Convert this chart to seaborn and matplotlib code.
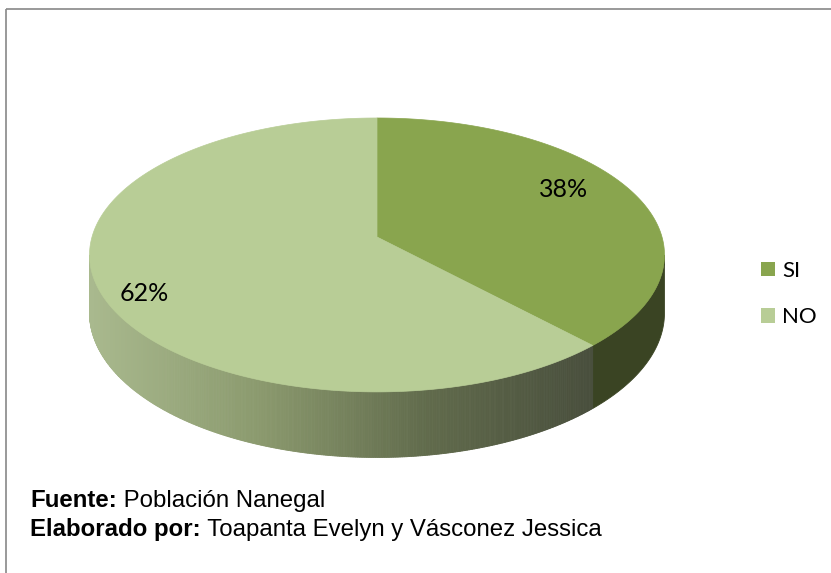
import numpy as np
import matplotlib
matplotlib.use("Agg")
import matplotlib.pyplot as plt
from matplotlib.patches import Patch
import seaborn as sns

# data
categories = ["SI", "NO"]
percentages = [38, 62]
top_colors = ["#89a54e", "#b8cd96"]
side_colors = ["#3a4423", None]  # NO side uses a gradient
no_side_stops = ["#a9b98e", "#8b9a6e", "#616b4c", "#484e3c"]

source_label = "Fuente:"
source_text = " Población Nanegal"
author_label = "Elaborado por:"
author_text = " Toapanta Evelyn y Vásconez Jessica"

sns.set_theme(style="white")
plt.rcParams["font.family"] = ["Lato", "DejaVu Sans"]
plt.rcParams["text.color"] = "black"

W, H = 831, 573
fig = plt.figure(figsize=(W / 100, H / 100), dpi=100)
ax = fig.add_axes([0, 0, 1, 1])
ax.set_xlim(0, W)
ax.set_ylim(H, 0)
ax.axis("off")

# simple perspective projection of a flat disc (pixel layout)
CX, CY = 377, 237      # apex of the pie
SX, SY = 285, 134.6    # horizontal / vertical radius at apex depth
A = 0.131              # perspective strength
DEPTH = 57             # thickness of the disc


def proj(theta, z=0.0):
    u, v = np.sin(theta), np.cos(theta)
    w = 1 + A * v
    return CX + SX * u / w, CY - SY * v / w + z / w


fracs = np.array(percentages) / sum(percentages)
bounds = np.concatenate([[0], np.cumsum(fracs)]) * 2 * np.pi
vis_lo = np.arccos(-A)
vis_hi = 2 * np.pi - vis_lo

# side walls (front half only)
grad = sns.blend_palette(no_side_stops, n_colors=256)
for i, cat in enumerate(categories):
    t0, t1 = max(bounds[i], vis_lo), min(bounds[i + 1], vis_hi)
    if t1 <= t0:
        continue
    if side_colors[i] is not None:
        t = np.linspace(t0, t1, 120)
        xt, yt = proj(t)
        xb, yb = proj(t, DEPTH)
        ax.fill(np.r_[xt, xb[::-1]], np.r_[yt, yb[::-1]],
                color=side_colors[i], lw=0.6, ec=side_colors[i])
    else:
        edges = np.linspace(t0, t1, 400)
        xmin, xmax = proj(vis_hi)[0], proj(bounds[i])[0]
        for a, b in zip(edges[:-1], edges[1:]):
            t = np.array([a, b])
            xt, yt = proj(t)
            xb, yb = proj(t, DEPTH)
            pos = np.clip((xt.mean() - xmin) / (xmax - xmin), 0, 1)
            c = grad[int(pos * 255)]
            ax.fill(np.r_[xt, xb[::-1]], np.r_[yt, yb[::-1]],
                    color=c, lw=0.6, ec=c)

# top faces
for i, cat in enumerate(categories):
    t = np.linspace(bounds[i], bounds[i + 1], 300)
    xr, yr = proj(t)
    ax.fill(np.r_[CX, xr], np.r_[CY, yr], color=top_colors[i],
            lw=0.5, ec=top_colors[i])

# percentage labels
for i, cat in enumerate(categories):
    mid = (bounds[i] + bounds[i + 1]) / 2
    lx = CX - 23 + 0.79 * SX * np.sin(mid)
    ly = 241.5 - 1.04 * SY * np.cos(mid)
    ax.text(lx, ly, f"{percentages[i]}%", ha="center", va="center",
            fontsize=18, color="black")

# legend
handles = [Patch(facecolor=c, edgecolor="none") for c in top_colors]
ax.legend(handles, categories, loc="center left",
          bbox_to_anchor=(761 / W, 1 - 294 / H), frameon=False,
          prop={"family": "Lato", "size": 16},
          handlelength=0.64, handleheight=0.64, handletextpad=0.3,
          labelspacing=1.2, borderpad=0, borderaxespad=0)

# footer
foot = {"family": ["Liberation Sans", "DejaVu Sans"], "size": 17.3}
t1 = ax.text(30, 507, source_label, fontdict=foot, fontweight="bold",
             va="baseline", color="black")
ax.annotate(source_text, xy=(1, 0), xycoords=t1, va="bottom",
            fontfamily=foot["family"], fontsize=foot["size"], color="black")
t2 = ax.text(30, 536, author_label, fontdict=foot, fontweight="bold",
             va="baseline", color="black")
ax.annotate(author_text, xy=(1, 0), xycoords=t2, va="bottom",
            fontfamily=foot["family"], fontsize=foot["size"], color="black")

# chart frame
ax.plot([6, W], [9, 9], color="#888888", lw=1.2, solid_capstyle="butt")
ax.plot([6, 6], [9, H], color="#888888", lw=1.2, solid_capstyle="butt")

fig.savefig("out.png", dpi=100)
